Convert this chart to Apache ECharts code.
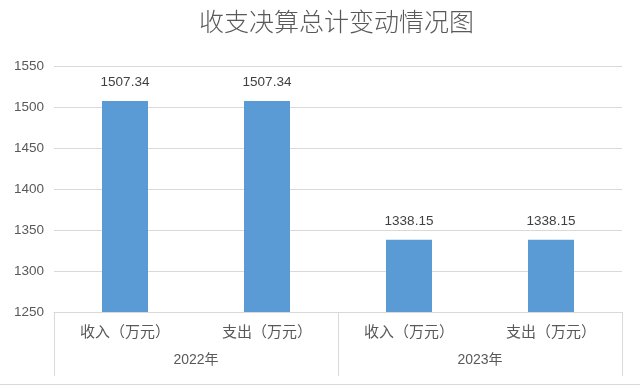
<!DOCTYPE html>
<html><head><meta charset="utf-8">
<script src="https://cdn.jsdelivr.net/npm/echarts@6/dist/echarts.min.js"></script>
<style>html,body{margin:0;padding:0;background:#fff}#c{width:640px;height:386px}</style>
</head><body><div id="c"></div>
<script>
const titleText = '收支决算总计变动情况图';
const categories = ['收入（万元）', '支出（万元）', '收入（万元）', '支出（万元）'];
const years = ['2022年', '2023年'];
const values = [1507.34, 1507.34, 1338.15, 1338.15];
const yTicks = { min: 1250, max: 1550, interval: 50 };

const FONT = '"Liberation Sans", "Noto Sans CJK SC", sans-serif';
const CJK = '"Noto Sans CJK SC", sans-serif';
const chart = echarts.init(document.getElementById('c'));
chart.setOption({
  backgroundColor: '#fff',
  animation: false,
  title: {
    text: titleText, left: 194, top: 4,
    textStyle: { fontFamily: CJK, fontSize: 25, fontWeight: 300, color: '#595959' }
  },
  grid: { left: 54, right: 18, top: 66, bottom: 74 },
  xAxis: [
    {
      type: 'category', data: categories, position: 'bottom',
      axisLine: { show: true, lineStyle: { color: '#d9d9d9', width: 1 } },
      axisTick: { show: false },
      axisLabel: { margin: 12, fontSize: 15, color: '#595959', fontFamily: CJK, interval: 0 }
    },
    {
      type: 'category', data: years, position: 'bottom', offset: 0,
      axisLine: { show: false },
      axisTick: { show: true, length: 64, lineStyle: { color: '#d9d9d9', width: 1 } },
      axisLabel: { margin: 41, fontSize: 14, color: '#595959', fontFamily: FONT },
      splitLine: { show: false }
    }
  ],
  yAxis: {
    type: 'value', min: yTicks.min, max: yTicks.max, interval: yTicks.interval,
    axisLine: { show: false }, axisTick: { show: false },
    axisLabel: { margin: 10, fontSize: 13.5, color: '#595959', fontFamily: FONT, formatter: v => String(v) },
    splitLine: { lineStyle: { color: '#d9d9d9', width: 1 } }
  },
  series: [{
    type: 'bar', data: values, xAxisIndex: 0, barWidth: 46,
    itemStyle: { color: '#5b9bd5' },
    label: { show: true, position: 'top', distance: 12, fontSize: 13.5, color: '#404040', fontFamily: FONT }
  }],
  graphic: [{
    type: 'line', shape: { x1: 0, y1: 384.5, x2: 640, y2: 384.5 },
    style: { stroke: '#d9d9d9', lineWidth: 1 }, silent: true
  }]
});
</script></body></html>
